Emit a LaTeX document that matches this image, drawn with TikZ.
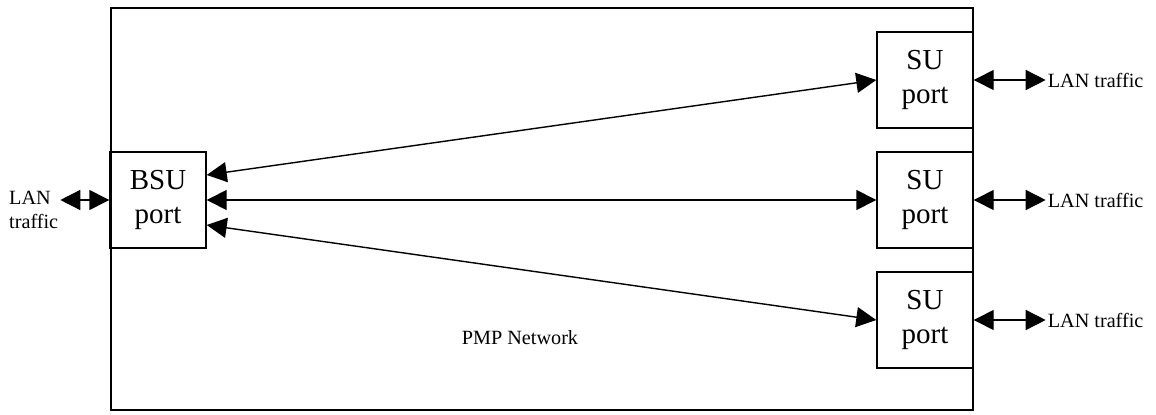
\documentclass[tikz,border=0pt]{standalone}
\usepackage{fontspec}
\setmainfont{Liberation Serif}
\usetikzlibrary{positioning,arrows.meta,calc}

\begin{document}
\begin{tikzpicture}[port/.style={
                rectangle, draw, line width=0.8pt, minimum size=1.92cm,
                align=center, font=\fontsize{16.5}{19.5}\selectfont},
            lan/.style={font=\fontsize{11.5}{13.5}\selectfont, inner sep=1pt},
            link/.style={line width=0.8pt,
                {Triangle[length=0.4cm,width=0.4cm]}-{Triangle[length=0.4cm,width=0.4cm]}}]

            \useasboundingbox (0,0) rectangle (23.12,8.28);
            \draw [line width=0.8pt] (2.22,0.08) rectangle (19.46,8.12);

            \node [port] (bsu) at (3.16,4.28) {BSU\\port};
            \node [port] (su1) at (18.5,6.68) {SU\\port};
            \node [port] (su2) at (18.5,4.28) {SU\\port};
            \node [port] (su3) at (18.5,1.88) {SU\\port};

            \node [lan,left=0.98cm of bsu,align=left,yshift=-0.2cm] (lanl) {LAN\\traffic};
            \node [lan,right=1.44cm of su1] (lan1) {LAN traffic};
            \node [lan,right=1.44cm of su2] (lan2) {LAN traffic};
            \node [lan,right=1.44cm of su3] (lan3) {LAN traffic};

            \node [font=\fontsize{11.5}{13.5}\selectfont] (pmp) at (10.4,1.52) {PMP Network};

            \draw [link] ([yshift=0.5cm]bsu.east) -- (su1.west);
            \draw [link] (bsu.east) -- (su2.west);
            \draw [link] ([yshift=-0.5cm]bsu.east) -- (su3.west);

            \draw [link] (bsu.west -| lanl.east) -- (bsu.west);
            \draw [link] (su1.east) -- (lan1.west);
            \draw [link] (su2.east) -- (lan2.west);
            \draw [link] (su3.east) -- (lan3.west);

        \end{tikzpicture}
\end{document}
